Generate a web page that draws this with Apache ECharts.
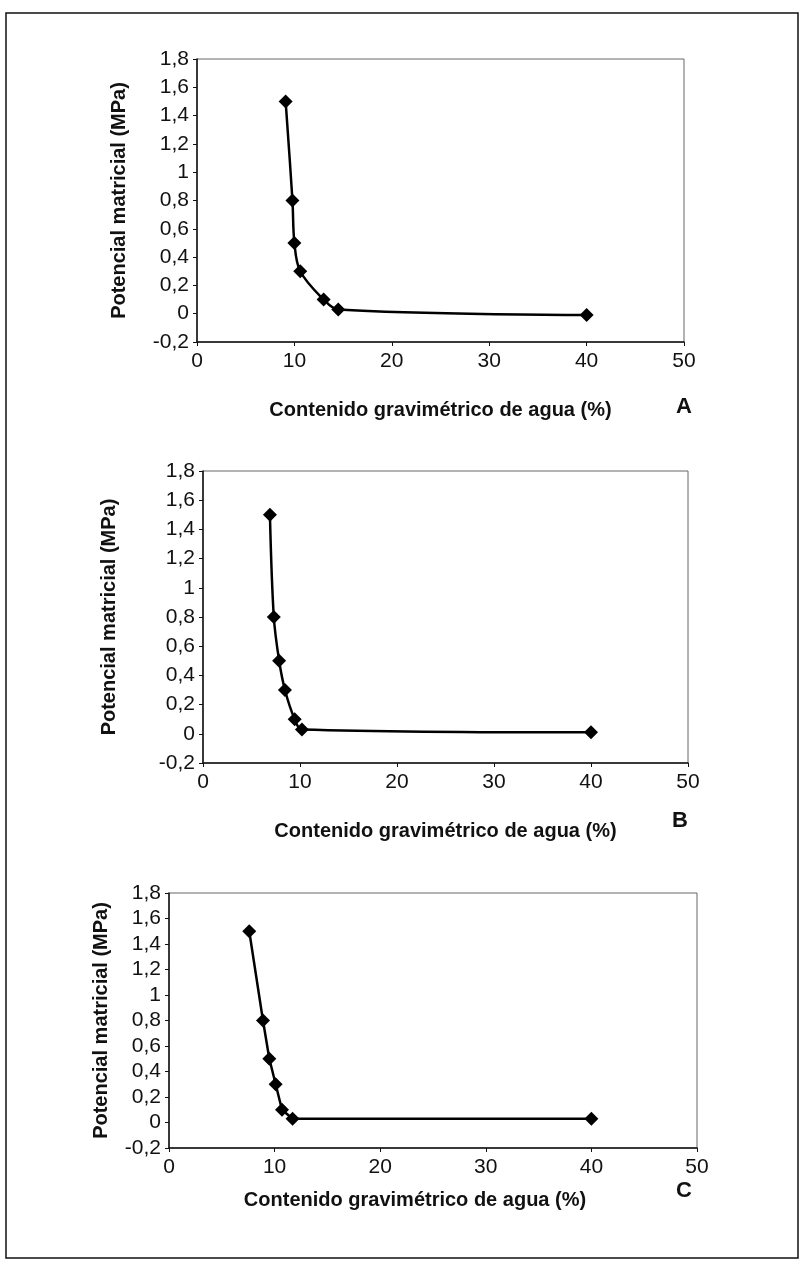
<!DOCTYPE html>
<html>
<head>
<meta charset="utf-8">
<script src="https://cdn.jsdelivr.net/npm/echarts@6/dist/echarts.min.js"></script>
<style>
  html, body { margin: 0; padding: 0; background: #fff; }
  #chart { width: 804px; height: 1262px; }
</style>
</head>
<body>
<div id="chart"></div>
<script>
// water content (%) vs matric potential (MPa), panels A, B, C
const waterA = [9.1, 9.8, 10.0, 10.6, 13.0, 14.5, 40];
const potA = [1.5, 0.8, 0.5, 0.3, 0.1, 0.03, -0.01];
const waterB = [6.9, 7.3, 7.85, 8.45, 9.45, 10.2, 40];
const potB = [1.5, 0.8, 0.5, 0.3, 0.1, 0.03, 0.01];
const waterC = [7.6, 8.9, 9.5, 10.1, 10.7, 11.7, 40];
const potC = [1.5, 0.8, 0.5, 0.3, 0.1, 0.03, 0.03];

const xTicks = [0, 10, 20, 30, 40, 50];
const yTicks = ['-0,2', '0', '0,2', '0,4', '0,6', '0,8', '1', '1,2', '1,4', '1,6', '1,8'];
const panelLetters = ['A', 'B', 'C'];
const xTitle = 'Contenido gravimétrico de agua (%)';
const yTitle = 'Potencial matricial (MPa)';

const FONT = '"Liberation Sans", Arial, sans-serif';
const NARROW = '"Liberation Sans Narrow", "Arial Narrow", "Liberation Sans", sans-serif';

let myChart = echarts.init(document.getElementById('chart'), null, { renderer: 'canvas' });

// pixel boxes of the three plots
const boxes = [
  { left: 197, top: 59, width: 487, height: 283, xGap: 58, yGap: 68, xPad: [0, 0, 0, 0] },
  { left: 203, top: 471, width: 485, height: 292, xGap: 58, yGap: 84, xPad: [0, 0, 0, 0] },
  { left: 169, top: 893, width: 528, height: 255, xGap: 42, yGap: 58, xPad: [0, 36, 0, 0] }
];
const letterPos = [[684, 396], [680, 810], [684, 1180]];
const seriesData = [[waterA, potA], [waterB, potB], [waterC, potC]];

function yLabel(v) {
  let i = Math.round((v + 0.2) / 0.2);
  return yTicks[i] !== undefined ? yTicks[i] : '';
}

let grids = [], xAxes = [], yAxes = [], series = [], graphics = [];

boxes.forEach((b, i) => {
  grids.push({
    left: b.left, top: b.top, width: b.width, height: b.height,
    show: true, borderColor: '#666', borderWidth: 1, backgroundColor: 'transparent'
  });
  xAxes.push({
    gridIndex: i, type: 'value', min: xTicks[0], max: xTicks[xTicks.length - 1], interval: 10,
    name: xTitle, nameLocation: 'middle', nameGap: b.xGap,
    nameTextStyle: { fontFamily: FONT, fontWeight: 'bold', fontSize: 20, color: '#111', padding: b.xPad },
    axisLine: { onZero: false, lineStyle: { color: '#111', width: 1.5 } },
    axisTick: { show: true, inside: false, length: 4, lineStyle: { color: '#111' } },
    axisLabel: { fontFamily: NARROW, fontSize: 21, color: '#111', margin: 9 },
    splitLine: { show: false }
  });
  yAxes.push({
    gridIndex: i, type: 'value', min: -0.2, max: 1.8, interval: 0.2,
    name: yTitle, nameLocation: 'middle', nameGap: b.yGap, nameRotate: 90,
    nameTextStyle: { fontFamily: FONT, fontWeight: 'bold', fontSize: 20, color: '#111' },
    axisLine: { onZero: false, lineStyle: { color: '#111', width: 1.5 } },
    axisTick: { show: true, inside: false, length: 4, lineStyle: { color: '#111' } },
    axisLabel: { fontFamily: NARROW, fontSize: 21, color: '#111', margin: 8, formatter: yLabel },
    splitLine: { show: false }
  });
  let xs = seriesData[i][0], ys = seriesData[i][1];
  series.push({
    type: 'line', xAxisIndex: i, yAxisIndex: i,
    data: xs.map((x, k) => [x, ys[k]]),
    smooth: i === 2 ? false : 0.35,
    symbol: 'diamond', symbolSize: 14,
    lineStyle: { color: '#000', width: 2.5 },
    itemStyle: { color: '#000' }
  });
  graphics.push({
    type: 'text', left: letterPos[i][0] - 8, top: letterPos[i][1],
    style: { text: panelLetters[i], font: 'bold 22px ' + FONT, fill: '#111' }
  });
});

// outer frame of the figure
graphics.push({
  type: 'rect', shape: { x: 6, y: 13, width: 792, height: 1245 },
  style: { fill: 'none', stroke: '#111', lineWidth: 1.5 }, z: -1
});

let option = {
  backgroundColor: '#fff',
  animation: false,
  grid: grids,
  xAxis: xAxes,
  yAxis: yAxes,
  series: series,
  graphic: graphics
};
myChart.setOption(option);
</script>
</body>
</html>
